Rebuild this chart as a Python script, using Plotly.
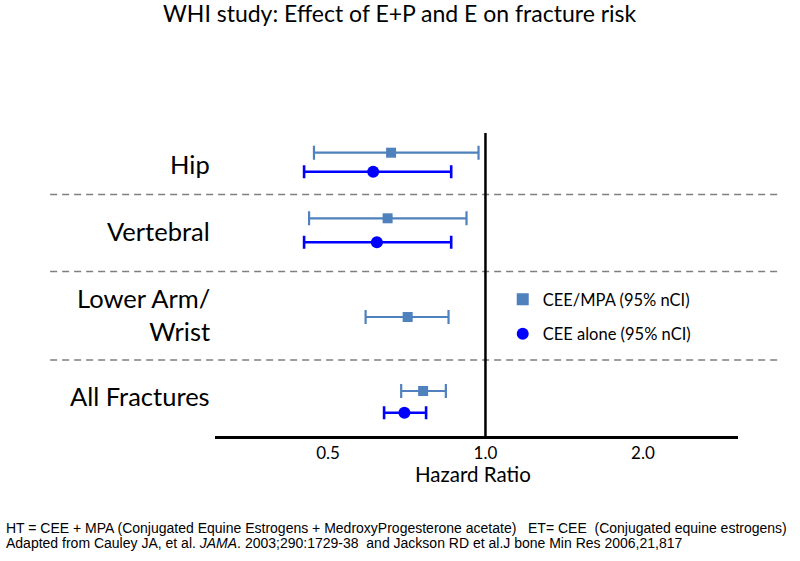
import math
import plotly.graph_objects as go

# ---- data ----
categories = ["Hip", "Vertebral", "Lower Arm/<br>Wrist", "All Fractures"]
ep_name = "CEE/MPA (95% nCI)"
ep_hr = [0.66, 0.65, 0.71, 0.76]
ep_lo = [0.47, 0.46, 0.59, 0.69]
ep_hi = [0.97, 0.92, 0.85, 0.84]
e_name = "CEE alone (95% nCI)"
e_hr = [0.61, 0.62, None, 0.70]
e_lo = [0.45, 0.45, None, 0.64]
e_hi = [0.86, 0.86, None, 0.77]
x_tickvals = [0.5, 1.0, 2.0]
x_ticktext = ["0.5", "1.0", "2.0"]
title_text = "WHI study: Effect of E+P and E on fracture risk"
xaxis_title = "Hazard Ratio"
footer_1a = "HT = CEE + MPA (Conjugated Equine Estrogens + MedroxyProgesterone acetate)"
footer_1b = "ET= CEE  (Conjugated equine estrogens)"
footer_2 = "Adapted from Cauley JA, et al. <i>JAMA</i>. 2003;290:1729-38  and Jackson RD et al.J bone Min Res 2006,21,817"

# ---- layout (row placement in y-axis units, 0 = top of plot area) ----
ep_row_y = [19.7, 85.3, 184.0, 258.0]
e_row_y = [38.7, 109.3, None, 279.7]
label_y = [31, 98, 181, 263]
separator_y = [61.5, 138.5, 227.0]
Y_SPAN = 303

C_EP = "#4F81BD"
C_E = "#0000FF"
FONT = "Lato"

# target plot area in window pixels
PL, PR, PT, PB = 215, 738.5, 133, 436
W, H = 800, 561
plot_w, plot_h = PR - PL, PB - PT


def pxx(px):
    return (px - PL) / plot_w


def pxy(py):
    return (PB - py) / plot_h


def pairs(hr, lo, hi, ys):
    xs, yy, plus, minus = [], [], [], []
    for h, l, u, y in zip(hr, lo, hi, ys):
        if h is None:
            continue
        xs.append(h); yy.append(y); plus.append(u - h); minus.append(h - l)
    return xs, yy, plus, minus


fig = go.Figure()
x1, y1, p1, m1 = pairs(ep_hr, ep_lo, ep_hi, ep_row_y)
fig.add_trace(go.Scatter(
    x=x1, y=y1, mode="markers", name=ep_name, legendgroup="a",
    marker=dict(symbol="square", size=10, color=C_EP),
    error_x=dict(type="data", symmetric=False, array=p1, arrayminus=m1,
                 color=C_EP, thickness=2.2, width=7),
))
x2, y2, p2, m2 = pairs(e_hr, e_lo, e_hi, e_row_y)
fig.add_trace(go.Scatter(
    x=x2, y=y2, mode="markers", name=e_name, legendgroup="b",
    marker=dict(symbol="circle", size=12, color=C_E),
    error_x=dict(type="data", symmetric=False, array=p2, arrayminus=m2,
                 color=C_E, thickness=2.6, width=6.5),
))

shapes = []
for sy in separator_y:
    shapes.append(dict(type="line", xref="paper", yref="y",
                       x0=pxx(50), x1=pxx(778), y0=sy, y1=sy,
                       line=dict(color="#7F7F7F", width=1.5, dash="7px,5px"), layer="below"))
shapes.append(dict(type="line", xref="x", yref="paper", x0=1.0, x1=1.0, y0=0, y1=1,
                   line=dict(color="black", width=2.5)))

annotations = []
for cat, ly in zip(categories, label_y):
    annotations.append(dict(text=cat, x=pxx(212), y=ly, xref="paper", yref="y",
                            xanchor="right", yanchor="middle", align="right", showarrow=False,
                            font=dict(family=FONT, size=25.5, color="black")))
annotations.append(dict(text=title_text, x=pxx(400), y=pxy(13), xref="paper", yref="paper",
                        xanchor="center", yanchor="middle",
                        showarrow=False, font=dict(family=FONT, size=23, color="black")))
annotations.append(dict(text=xaxis_title, x=pxx(473), y=pxy(474), xref="paper", yref="paper",
                        xanchor="center", yanchor="middle",
                        showarrow=False, font=dict(family=FONT, size=20.5, color="black")))
foot_font = dict(family="Liberation Sans", size=14, color="black")
annotations += [
    dict(text=footer_1a, x=pxx(4), y=pxy(528), xref="paper", yref="paper", showarrow=False,
         xanchor="left", yanchor="middle", font=foot_font),
    dict(text=footer_1b, x=pxx(790), y=pxy(528), xref="paper", yref="paper", showarrow=False,
         xanchor="right", yanchor="middle", font=foot_font),
    dict(text=footer_2, x=pxx(4), y=pxy(543), xref="paper", yref="paper", showarrow=False,
         xanchor="left", yanchor="middle", font=foot_font),
]

fig.update_layout(
    width=W, height=H,
    margin=dict(l=PL, r=W - PR, t=PT, b=H - PB, pad=0, autoexpand=False),
    paper_bgcolor="white", plot_bgcolor="white",
    font=dict(family=FONT, color="black"),
    showlegend=True,
    legend=dict(x=pxx(503), y=pxy(282), xanchor="left", yanchor="top",
                font=dict(family=FONT, size=16.5, color="black"), bgcolor="rgba(0,0,0,0)",
                tracegroupgap=10, traceorder="grouped", itemsizing="constant"),
    xaxis=dict(type="log", range=[math.log10(0.304), math.log10(3.04)],
               tickvals=x_tickvals, ticktext=x_ticktext, ticks="",
               showgrid=False, zeroline=False, showline=True, linecolor="black", linewidth=2.5,
               tickfont=dict(family=FONT, size=17, color="black")),
    yaxis=dict(range=[Y_SPAN, 0], showgrid=False, zeroline=False, showline=False,
               showticklabels=False, ticks=""),
    shapes=shapes, annotations=annotations,
)

# remove the browser's default 8px body margin so the 800x561 figure fills the window
fig.write_html("out.html", config={"displayModeBar": False},
               post_script="document.body.style.margin='0px';")
